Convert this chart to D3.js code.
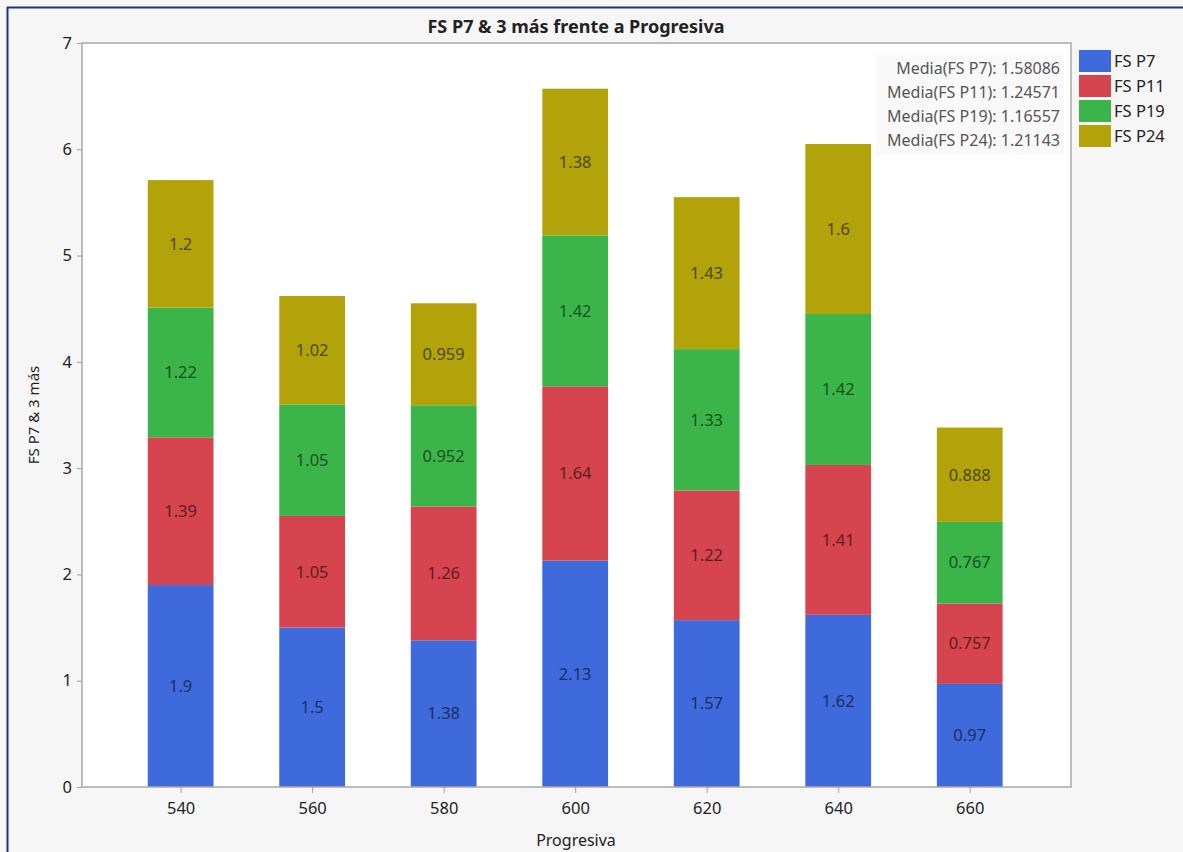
<!DOCTYPE html>
<html><head><meta charset="utf-8">
<script src="https://cdn.jsdelivr.net/npm/d3@7"></script>
<style>
body{margin:0;background:#f6f6f6;}
svg{display:block;}
</style></head>
<body>
<svg id="c" width="1183" height="852"></svg>
<script>
const progresiva = [540, 560, 580, 600, 620, 640, 660];
const seriesNames = ["FS P7", "FS P11", "FS P19", "FS P24"];
const fsP7  = [1.9, 1.5, 1.38, 2.13, 1.57, 1.62, 0.97];
const fsP11 = [1.39, 1.05, 1.26, 1.64, 1.22, 1.41, 0.757];
const fsP19 = [1.22, 1.05, 0.952, 1.42, 1.33, 1.42, 0.767];
const fsP24 = [1.2, 1.02, 0.959, 1.38, 1.43, 1.6, 0.888];
const seriesColors = ["#3f6adc", "#d5444f", "#3bb54a", "#b3a30b"];
const meanLabels = ["Media(FS P7): 1.58086", "Media(FS P11): 1.24571", "Media(FS P19): 1.16557", "Media(FS P24): 1.21143"];
const yTicks = [0, 1, 2, 3, 4, 5, 6, 7];
const xTicks = progresiva;
const title = "FS P7 & 3 más frente a Progresiva";
const xTitle = "Progresiva";
const yTitle = "FS P7 & 3 más";

const allSeries = [fsP7, fsP11, fsP19, fsP24];
const rows = progresiva.map((p, i) => {
  const r = {p};
  seriesNames.forEach((s, k) => r[s] = allSeries[k][i]);
  return r;
});
const stacked = d3.stack().keys(seriesNames)(rows);

const svg = d3.select("#c");
const font = "'Noto Sans', 'Open Sans', sans-serif";
const L = 82, T = 43, R = 1071, B = 787;

// page border
svg.append("rect").attr("x", 0).attr("y", 0).attr("width", 1183).attr("height", 852).attr("fill", "#f6f6f6");
svg.append("line").attr("x1", 7).attr("x2", 1183).attr("y1", 7.5).attr("y2", 7.5).attr("stroke", "#1d3470").attr("stroke-width", 2);
svg.append("line").attr("x1", 7.5).attr("x2", 7.5).attr("y1", 7).attr("y2", 852).attr("stroke", "#1d3470").attr("stroke-width", 2);

const x = d3.scaleLinear().domain([525, 675.4]).range([L, R]);
const y = d3.scaleLinear().domain([0, 7]).range([B, T]);
const color = d3.scaleOrdinal().domain(seriesNames).range(seriesColors);
const barW = x(550) - x(540);

svg.append("rect").attr("x", L).attr("y", T).attr("width", R - L).attr("height", B - T)
  .attr("fill", "#fff");

// bars
const g = svg.append("g");
stacked.forEach(layer => {
  const c = color(layer.key);
  g.selectAll(null).data(layer).enter().append("rect")
    .attr("x", d => x(d.data.p) - barW / 2)
    .attr("width", barW)
    .attr("y", d => y(d[1]))
    .attr("height", d => y(d[0]) - y(d[1]))
    .attr("fill", c);
  g.selectAll(null).data(layer).enter().append("text")
    .attr("x", d => x(d.data.p))
    .attr("y", d => y((d[0] + d[1]) / 2))
    .attr("dy", "0.35em")
    .attr("text-anchor", "middle")
    .attr("font-family", font).attr("font-size", 16.5)
    .attr("fill", d3.color(c).darker(2.3))
    .text(d => d.data[layer.key]);
});

// frame
svg.append("rect").attr("x", L).attr("y", T).attr("width", R - L).attr("height", B - T)
  .attr("fill", "none").attr("stroke", "#a8a8a8").attr("stroke-width", 1.5);

// axes
const yAxis = svg.append("g").attr("transform", `translate(${L},0)`)
  .call(d3.axisLeft(y).tickValues(yTicks).tickSize(5).tickFormat(d3.format("d")));
const xAxis = svg.append("g").attr("transform", `translate(0,${B})`)
  .call(d3.axisBottom(x).tickValues(xTicks).tickSize(6).tickFormat(d3.format("d")));
[yAxis, xAxis].forEach(a => {
  a.select(".domain").remove();
  a.selectAll(".tick line").attr("stroke", "#a0a0a0");
  a.selectAll(".tick text").attr("font-family", font).attr("font-size", 16.5).attr("fill", "#222");
});
xAxis.selectAll(".tick text").attr("dy", "1.1em");
yAxis.selectAll(".tick text").attr("x", -10);

// titles
svg.append("text").attr("x", 576).attr("y", 33).attr("text-anchor", "middle")
  .attr("font-family", font).attr("font-weight", "bold").attr("font-size", 18).attr("fill", "#222").text(title);
svg.append("text").attr("x", 576).attr("y", 846).attr("text-anchor", "middle")
  .attr("font-family", font).attr("font-size", 16).attr("fill", "#222").text(xTitle);
svg.append("text").attr("transform", "translate(39,415) rotate(-90)").attr("text-anchor", "middle")
  .attr("font-family", font).attr("font-size", 15).attr("fill", "#222").text(yTitle);

// mean annotations
svg.append("rect").attr("x", 876).attr("y", 55).attr("width", 188).attr("height", 100).attr("fill", "#f8f8f8").attr("opacity", 0.9);
svg.selectAll(".mean").data(meanLabels).enter().append("text")
  .attr("x", 1060).attr("y", (d, i) => 74 + i * 24)
  .attr("text-anchor", "end")
  .attr("font-family", font).attr("font-size", 16).attr("fill", "#555").text(d => d);

// legend
const lg = svg.append("g").attr("transform", "translate(1079,50)");
seriesNames.forEach((s, i) => {
  lg.append("rect").attr("x", 0).attr("y", i * 25).attr("width", 32).attr("height", 22).attr("fill", color(s));
  lg.append("text").attr("x", 35).attr("y", i * 25 + 11).attr("dy", "0.35em")
    .attr("font-family", font).attr("font-size", 16.5).attr("fill", "#222").text(s);
});
</script>
</body></html>
